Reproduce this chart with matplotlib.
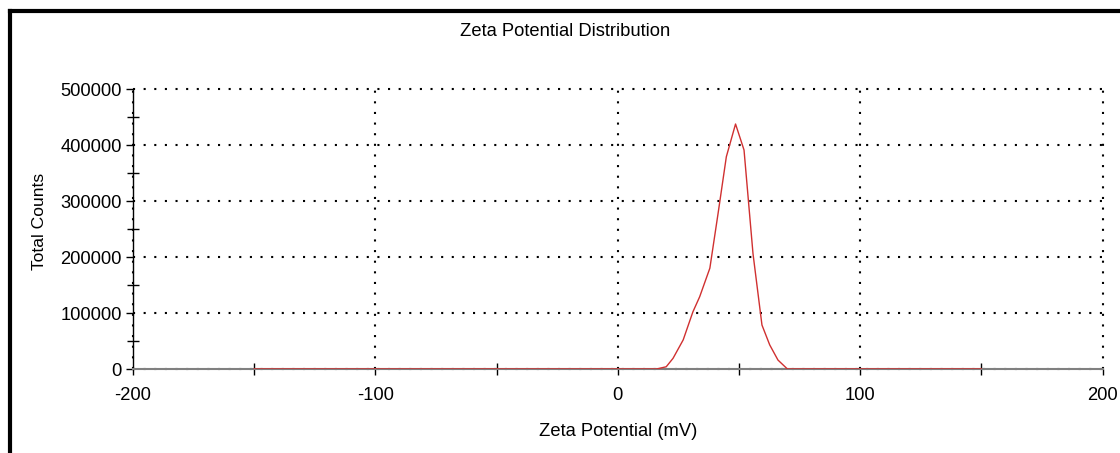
import matplotlib
matplotlib.use("Agg")
import matplotlib.pyplot as plt
from matplotlib.lines import Line2D
from matplotlib.ticker import MultipleLocator

plt.rcParams['font.family'] = ['Liberation Sans', 'DejaVu Sans']
plt.rcParams['axes.unicode_minus'] = False

# Data
zeta_mv = [-150, 16, 20, 22.8, 27, 31, 33.8, 38, 41.4, 44.8, 48.6, 52.1, 55.8, 59.5, 62.7, 66.1, 70, 150]
counts = [0, 0, 4000, 19000, 52000, 102000, 129000, 180000, 278000, 379000, 437500,
          391000, 206000, 78500, 43000, 16000, 0, 0]

title = "Zeta Potential Distribution"
xlabel = "Zeta Potential (mV)"
ylabel = "Total Counts"
xlim = (-200, 200)
ylim = (0, 500000)

fig = plt.figure(figsize=(11.2, 4.53), dpi=100)
ax = fig.add_axes([133 / 1120, 1 - 369 / 453, (1102.5 - 133) / 1120, (369 - 89) / 453])

ax.set_xlim(*xlim)
ax.set_ylim(*ylim)

ax.xaxis.set_major_locator(MultipleLocator(100))
ax.xaxis.set_minor_locator(MultipleLocator(50))
ax.yaxis.set_major_locator(MultipleLocator(100000))
ax.yaxis.set_minor_locator(MultipleLocator(50000))

ax.grid(True, which='major', color='black', linestyle=(0, (1, 4.1)), linewidth=1.5)
for gl in ax.get_xgridlines() + ax.get_ygridlines():
    gl.set_clip_on(False)

ax.plot(zeta_mv, counts, color='#d03030', linewidth=1.0, zorder=3)

for s in ['top', 'right']:
    ax.spines[s].set_visible(False)
ax.spines['left'].set_color('black')
ax.spines['left'].set_linewidth(1.0)
ax.spines['bottom'].set_color('#808080')
ax.spines['bottom'].set_linewidth(1.5)
ax.spines['left'].set_zorder(2)
ax.spines['bottom'].set_zorder(2)

ax.tick_params(axis='x', which='major', direction='out', length=4, width=1, color='black',
               labelsize=13.2, pad=9)
ax.tick_params(axis='x', which='minor', direction='inout', length=8, width=1, color='black')
ax.tick_params(axis='y', which='major', direction='out', length=5, width=1, color='black',
               labelsize=13.2, pad=3)
ax.tick_params(axis='y', which='minor', direction='inout', length=9, width=1, color='black')

fig.text(565 / 1120, 1 - 32 / 453, title, ha='center', va='center', fontsize=13.2)
fig.text(618 / 1120, 1 - 432 / 453, xlabel, ha='center', va='center', fontsize=13.2)
fig.text(40 / 1120, 1 - 221 / 453, ylabel, ha='center', va='center', rotation=90, fontsize=12.6)

# Black frame at top and left of the picture
fig.add_artist(Line2D([9.5 / 1120, 9.5 / 1120], [0, 1 - 11 / 453], transform=fig.transFigure,
                      color='black', linewidth=3.0, solid_capstyle='projecting'))
fig.add_artist(Line2D([9.5 / 1120, 1], [1 - 11 / 453, 1 - 11 / 453], transform=fig.transFigure,
                      color='black', linewidth=3.0, solid_capstyle='projecting'))

fig.savefig("out.png", dpi=100)
